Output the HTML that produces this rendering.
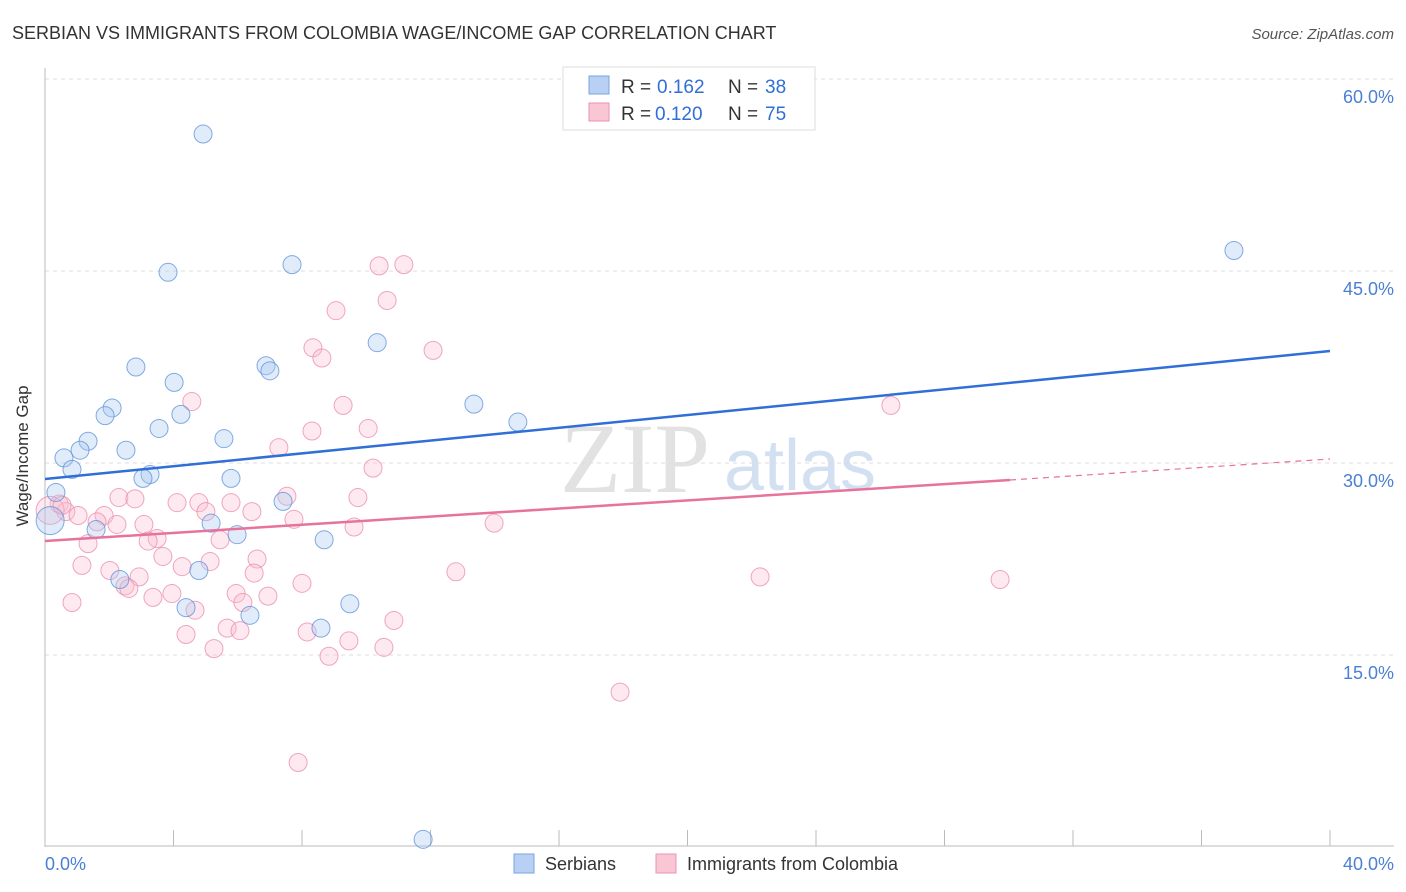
<!DOCTYPE html>
<html><head><meta charset="utf-8"><style>
body{margin:0;background:#fff;font-family:"Liberation Sans",sans-serif}
svg{display:block}
</style></head><body>
<svg id="chart" width="1406" height="892">
<text x="12" y="39" font-size="18" fill="#333">SERBIAN VS IMMIGRANTS FROM COLOMBIA WAGE/INCOME GAP CORRELATION CHART</text>
<text x="1394" y="39" font-size="15" fill="#555" font-style="italic" text-anchor="end">Source: ZipAtlas.com</text>
<text x="635" y="492" font-size="100" fill="#e2e2e2" font-family="Liberation Serif" text-anchor="middle">ZIP</text>
<text x="800" y="490" font-size="72" fill="#d3e0f2" text-anchor="middle">atlas</text>
<g id="grid"></g><g id="axes"></g><g id="pts"></g><g id="lines"></g>
<text x="28" y="456" font-size="17" fill="#333" text-anchor="middle" transform="rotate(-90 28 456)">Wage/Income Gap</text>
<text x="45" y="870" font-size="18" fill="#4a7fd4">0.0%</text>
<text x="1394" y="870" font-size="18" fill="#4a7fd4" text-anchor="end">40.0%</text>
<g>
<rect x="563" y="67" width="252" height="63" fill="#fff" stroke="#ddd"/>
<rect x="589" y="76" width="20" height="18" fill="#b8d0f4" stroke="#7aa3e0"/>
<rect x="589" y="103" width="20" height="18" fill="#f9c6d6" stroke="#eb93b0"/>
<text x="621" y="93" font-size="19" fill="#333">R =</text>
<text x="657" y="93" font-size="19" fill="#2f6fd6">0.162</text>
<text x="728" y="93" font-size="19" fill="#333">N =</text>
<text x="765" y="93" font-size="19" fill="#2f6fd6">38</text>
<text x="621" y="120" font-size="19" fill="#333">R =</text>
<text x="655" y="120" font-size="19" fill="#2f6fd6">0.120</text>
<text x="728" y="120" font-size="19" fill="#333">N =</text>
<text x="765" y="120" font-size="19" fill="#2f6fd6">75</text>
</g>
<g>
<rect x="514" y="854" width="20" height="19" fill="#b8d0f4" stroke="#7aa3e0"/>
<text x="545" y="870" font-size="18" fill="#333">Serbians</text>
<rect x="656" y="854" width="20" height="19" fill="#f9c6d6" stroke="#eb93b0"/>
<text x="687" y="870" font-size="18" fill="#333">Immigrants from Colombia</text>
</g>
</svg>
<script>
const blueX=[4.92,3.83,7.69,10.34,2.83,6.88,7.0,4.02,2.09,1.87,4.23,3.55,1.34,5.57,2.52,1.09,0.59,0.84,3.27,3.05,5.79,0.34,13.35,14.72,7.41,5.17,1.59,5.98,8.69,4.79,2.33,4.39,9.49,6.38,8.59,11.77,37.01,0.16];
const blueY=[55.7,44.9,45.5,39.4,37.5,37.6,37.2,36.3,34.3,33.7,33.8,32.7,31.7,31.9,31.0,31.0,30.4,29.5,29.1,28.8,28.8,27.7,34.6,33.2,27.0,25.3,24.8,24.4,24.0,21.6,20.9,18.7,19.0,18.1,17.1,0.6,46.6,25.5];
const pinkX=[11.17,10.40,10.65,9.06,12.08,8.34,8.62,4.57,9.28,8.31,10.06,7.28,10.21,26.33,0.44,0.65,1.03,1.84,2.30,2.80,4.11,4.79,5.79,5.01,6.44,7.53,9.74,7.75,1.62,2.24,3.08,3.49,1.34,3.21,5.45,9.62,13.98,1.15,2.02,3.67,4.27,5.14,6.60,6.51,2.93,8.00,12.79,22.26,29.73,2.49,2.61,3.36,3.95,5.95,6.94,6.16,0.84,4.67,10.86,5.67,6.07,4.39,8.16,9.46,5.26,10.55,8.84,17.90,7.88,0.16,0.53];
const pinkY=[45.5,45.4,42.7,41.9,38.8,39.0,38.2,34.8,34.5,32.5,32.7,31.2,29.6,34.5,26.8,26.2,25.9,25.9,27.3,27.2,26.9,26.9,26.9,26.2,26.2,27.4,27.3,25.6,25.4,25.2,25.2,24.1,23.7,23.9,24.0,25.0,25.3,22.0,21.6,22.7,21.9,22.3,22.5,21.4,21.1,20.6,21.5,21.1,20.9,20.4,20.2,19.5,19.8,19.8,19.6,19.1,19.1,18.5,17.7,17.1,16.9,16.6,16.8,16.1,15.5,15.6,14.9,12.1,6.6,26.3,26.7];
const yTicks=[15,30,45,60];
const X=v=>45+v*32.125, Y=v=>847-v*12.8;
const NS='http://www.w3.org/2000/svg';
function mk(p,t,a){const e=document.createElementNS(NS,t);for(const k in a)e.setAttribute(k,a[k]);p.appendChild(e);return e;}
const grid=document.getElementById('grid'),axes=document.getElementById('axes'),pts=document.getElementById('pts'),lines=document.getElementById('lines');
yTicks.forEach(t=>{
 const l=mk(grid,'line',{x1:45,x2:1394,y1:Y(t),y2:Y(t),stroke:'#ddd','stroke-dasharray':'4,4'});
 
 
 const tx=mk(grid,'text',{x:1394,y:Y(t)+24,'font-size':18,fill:'#4a7fd4','text-anchor':'end'});
 tx.textContent=t.toFixed(1)+'%';
 
 
});
mk(axes,'line',{x1:45,x2:45,y1:68,y2:847,stroke:'#bbb'});
mk(axes,'line',{x1:45,x2:1394,y1:846,y2:846,stroke:'#bbb'});
for(let i=0;i<=10;i++){const tk=mk(axes,'line',{x1:X(i*4),x2:X(i*4),y1:830,y2:846,stroke:'#bbb'});
 
 }
function dots(xs,ys,fill,stroke,name){xs.forEach((x,i)=>{
 const big=(x<0.2);
 const c=mk(pts,'circle',{cx:X(x),cy:Y(ys[i]),r:big?14:9,fill:fill,'fill-opacity':0.35,stroke:stroke,'stroke-opacity':0.75,'stroke-width':1});
 
 
});}
dots(pinkX,pinkY,'#f9c0d2','#e98aab','colombia-point');
dots(blueX,blueY,'#aac8f0','#5b8fd8','serbian-point');
const bl=mk(lines,'line',{x1:X(0),y1:479,x2:X(40),y2:351,stroke:'#2f6fd6','stroke-width':2.5});


const pl=mk(lines,'line',{x1:X(0),y1:541,x2:1010,y2:480,stroke:'#e7729b','stroke-width':2.5});


const pd=mk(lines,'line',{x1:1010,y1:480,x2:1330,y2:459,stroke:'#e7729b','stroke-width':1.2,'stroke-dasharray':'6,5'});


</script>
</body></html>
